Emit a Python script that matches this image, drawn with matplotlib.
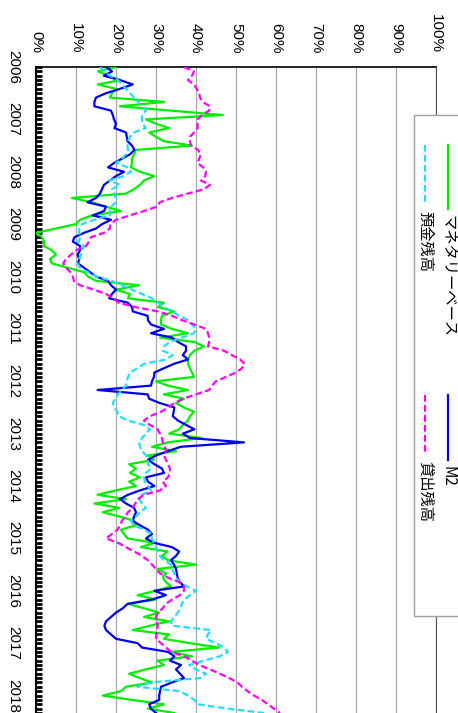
import numpy as np
import matplotlib
matplotlib.use('Agg')
import matplotlib.pyplot as plt
from matplotlib.lines import Line2D
from matplotlib.patches import Rectangle
from matplotlib.ticker import MultipleLocator

plt.rcParams['font.family'] = ['Liberation Sans', 'Noto Sans CJK JP', 'DejaVu Sans']

# monthly year-on-year rates (%), Jan 2006 .. May 2018
monetary_base = [
    20, 15.5, 18, 21, 15.5, 20, 19, 18.5, 32, 21, 34, 46.7,
    27.5, 30, 33.3, 28.3, 30, 32, 39, 25, 24.5, 24, 24, 23.75,
    26, 29.6, 27, 26, 24.5, 22.5, 9, 14, 17.5, 21.25, 14, 11,
    10, 5, 0, 1.5, 2, 2, 4, 5, 3.5, 4, 8, 12,
    13, 15, 25.8, 20, 23.5, 23, 32, 30.5, 34.6, 31.5, 31.25, 31.25,
    34, 38, 31, 39.6, 42, 39.6, 38.5, 38, 38, 38.5, 39, 39.5,
    30, 33, 38, 32, 37, 35, 37, 39.5, 38.5, 38, 36.7, 35.8,
    33.3, 41.5, 33, 29, 35, 28, 29.5, 23.3, 25, 23.5, 26, 23.3,
    25, 20, 15.4, 22.5, 14.6, 20.8, 16.7, 21, 24.6, 25, 21.25, 22,
    22.9, 29.6, 26.25, 32.9, 31.5, 33, 40, 30.4, 32.5, 31.7, 32.5, 33.75,
    30, 25.4, 30, 23, 27, 30.8, 27, 33.3, 28.5, 24.2, 33.3, 32,
    38.5, 45.8, 33.75, 39, 30.4, 32, 27.5, 23.3, 26, 29, 22.5, 21.25,
    16.7, 24, 32, 28, 34.6,
]
m2 = [
    17.5, 19, 17, 21, 24.2, 21, 17.5, 15, 14.6, 14.6, 18.75, 19.2,
    19.5, 20, 19.6, 22.5, 22.7, 22.9, 24, 24.6, 23.5, 21.5, 19.5, 18,
    22, 20, 18.5, 17, 16.5, 16, 15, 12.9, 17.5, 17, 14.2, 18.75,
    16.5, 15, 12, 9.6, 9.2, 11, 11, 10.4, 10.8, 10.5, 12, 13.5,
    15, 18, 18.75, 20, 19, 18.3, 23, 24, 24.2, 27.9, 28, 28.75,
    32, 28.75, 34, 35.5, 37.5, 37.5, 36.7, 38, 34.5, 32, 29.6, 29.5,
    29, 28.75, 15.4, 27.9, 28.3, 31, 34.6, 34.4, 34.2, 35.5, 37.5, 39.6,
    36.7, 38.5, 52, 36.25, 33, 30, 28, 29.6, 31.5, 32, 27.5, 28,
    29.6, 26, 23, 21, 22.5, 24.5, 25, 24.5, 24.2, 26, 28, 29,
    27.5, 29.5, 34, 35.8, 35, 33.75, 34.5, 35, 35.2, 35.4, 36, 37,
    29.6, 32.5, 29, 22.9, 21.7, 20, 18.75, 17.5, 17.1, 17.5, 18.75, 20,
    25.4, 26.5, 33, 34.6, 33.5, 36.25, 35, 36, 37, 34, 31.25, 31,
    30.8, 30.8, 28.3, 28.75, 30,
]
deposits = [
    16, 17, 18.5, 20.5, 21.5, 22.5, 23.5, 24.5, 25.6, 26.5, 27.5, 26.5,
    26.5, 26.7, 27.4, 24.5, 23.5, 23, 22.9, 23, 22.5, 21.5, 20, 23,
    23.75, 22, 18.3, 21, 19, 19.5, 20, 20, 18.75, 18.5, 18.5, 14.6,
    11.5, 10.8, 10.8, 11.25, 10.5, 12, 11.5, 11.25, 10.8, 10.4, 11, 13,
    15, 19, 21.5, 24, 26.5, 29, 30.5, 32, 34, 35.8, 38, 39,
    40, 39.5, 36.5, 33.5, 32, 31.7, 34.2, 32.5, 27, 25.4, 23.5, 23,
    22.7, 22.5, 21.5, 20.5, 19.8, 19.2, 19.6, 20.3, 20.8, 23, 27, 28.5,
    27.5, 26.5, 25.8, 26, 26.5, 27.5, 28, 28, 28.75, 27.5, 27, 27.2,
    28, 28.75, 26.5, 25.8, 26.5, 27.5, 26, 25, 23.75, 24.5, 27, 29,
    29, 29.5, 30, 30.5, 31, 32, 33.75, 34, 34.6, 35, 36, 37.7,
    40, 38.5, 37, 36.5, 36, 35.5, 34.5, 33.75, 34, 43.75, 43, 42.5,
    45, 47, 48, 46, 42, 38.3, 40, 42.5, 41, 28.75, 25.4, 36,
    38, 39.6, 40.4, 48, 57,
]
loans = [
    37, 39.5, 39, 38, 39.5, 40.2, 40.8, 41, 41.7, 43.5, 43.3, 41.5,
    40.4, 40.4, 40.4, 39.5, 38.5, 38.5, 38.75, 40.5, 41.25, 40.8, 40.4, 41.8,
    42.5, 42.3, 41.3, 43.5, 42, 38, 34, 31, 30.2, 27, 23.5, 20,
    18.6, 18.5, 17, 13.75, 13.3, 12.5, 10, 8.75, 7.5, 6.8, 7.5, 8.6,
    9.2, 9.5, 11, 14.5, 17.5, 19.5, 20.6, 24.8, 30.5, 34, 36.5, 39.6,
    42.5, 43, 43.3, 43.3, 43, 47, 49, 51, 52.2, 51.5, 50, 47.5,
    45, 44, 43.3, 40, 36.7, 34.6, 33, 31.25, 28.5, 27, 28.5, 30.4,
    31, 31.5, 31.7, 32.2, 32.5, 32, 32.5, 33, 33.5, 33.5, 33, 31.7,
    32.5, 31, 27, 25.5, 24.8, 24.2, 23, 22.3, 21.5, 21, 20.4, 19,
    17.5, 20.5, 22.5, 24.6, 26.5, 28, 29, 30, 31, 33, 35.8, 37,
    37, 36, 34, 32.5, 31.7, 30.5, 30, 30.2, 30.4, 30.3, 30.1, 30,
    31.25, 32.5, 33.8, 37, 39, 40.8, 43.5, 46, 48.3, 50.4, 51.5, 52.9,
    54.5, 56.5, 58, 59.5, 61,
]

names = ['マネタリーベース', 'M2', '預金残高', '貸出残高']
colors = ['#00ee00', '#0000ee', '#22ddff', '#ff00ff']
styles = ['-', '-', (0, (3, 1.5)), (0, (3, 1.5))]
series = [monetary_base, m2, deposits, loans]

months = 2006 + np.arange(len(m2)) / 12.0
years = list(range(2006, 2019))
pct_ticks = list(range(0, 101, 10))

W, H = 458, 713
fig = plt.figure(figsize=(W / 100, H / 100), dpi=100)
ax = fig.add_axes([36 / W, 0, 400 / W, 646 / H])

for vals, c, ls in zip(series, colors, styles):
    ax.plot(vals, months, color=c, linestyle=ls, linewidth=1.6, zorder=3)

ax.set_xlim(0, 100)
ax.set_ylim(months[-1], 2006)

ax.xaxis.tick_top()
ax.set_xticks(pct_ticks)
ax.set_xticklabels([f'{p}%' for p in pct_ticks], rotation=270, fontsize=11)
ax.tick_params(axis='x', length=0, pad=10)
ax.grid(axis='x', color='#a8a8a8', linewidth=0.9)
ax.set_axisbelow(True)

ax.set_yticks(years)
ax.set_yticklabels([str(y) for y in years], rotation=270, fontsize=11, va='center')
ax.yaxis.set_minor_locator(MultipleLocator(1 / 12))
ax.tick_params(axis='y', which='both', direction='in', length=4, width=2,
               color='black', pad=11)

ax.spines['left'].set_linewidth(1.5)
ax.spines['top'].set_linewidth(1.2)
ax.spines['right'].set_color('#505050')
ax.spines['bottom'].set_visible(False)

# legend drawn by hand (rotated chart)
def fx(px):
    return px / W

def fy(py):
    return 1 - py / H

fig.patches.append(Rectangle((fx(414), fy(616)), fx(60), 501 / H,
                             transform=fig.transFigure, facecolor='white',
                             edgecolor='#a0a0a0', linewidth=1, zorder=5))
entries = [(448, 145, 209, 0), (448, 395, 460, 1), (425, 145, 205, 2), (425, 395, 455, 3)]
for x, y0, y1, i in entries:
    fig.lines.append(Line2D([fx(x), fx(x)], [fy(y0), fy(y1)], transform=fig.transFigure,
                            color=colors[i], linestyle=styles[i], linewidth=1.6, zorder=6))
    fig.text(fx(x), fy(y1 + 6), names[i], rotation=270, rotation_mode='anchor',
             ha='left', va='center', fontsize=11, zorder=6,
             family=['Noto Sans CJK JP', 'DejaVu Sans'])

fig.savefig('out.png', dpi=100)
